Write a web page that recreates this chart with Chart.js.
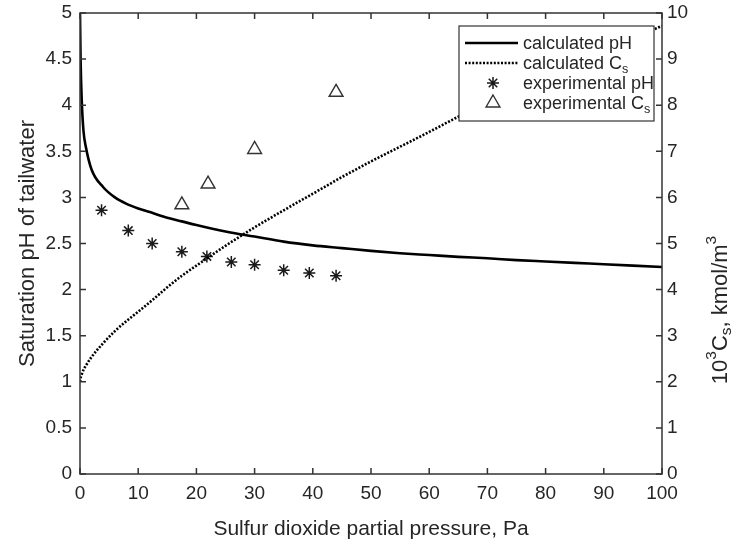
<!DOCTYPE html>
<html>
<head>
<meta charset="utf-8">
<script src="https://cdn.jsdelivr.net/npm/chart.js@4.4.1/dist/chart.umd.min.js"></script>
<style>
  html, body { margin: 0; padding: 0; background: #fff; }
  #wrap { width: 732px; height: 543px; }
</style>
</head>
<body>
<div id="wrap"><canvas id="chart"></canvas></div>
<script>
// SO2 partial pressure, Pa (model curves)
const pressure = [0, 0.1, 0.3, 0.6, 1, 2, 4, 6, 8, 10, 12.5, 15, 17.5, 20, 25, 30, 35, 40, 45, 50, 55, 60, 65, 70, 75, 80, 85, 90, 95, 100];
const calcPH = [5.0, 4.5, 4.05, 3.72, 3.55, 3.3, 3.11, 3.0, 2.93, 2.88, 2.83, 2.78, 2.74, 2.70, 2.63, 2.575, 2.52, 2.48, 2.45, 2.42, 2.395, 2.375, 2.355, 2.34, 2.32, 2.305, 2.29, 2.275, 2.26, 2.245];
const calcCs = [2.0, 2.08, 2.16, 2.26, 2.35, 2.54, 2.84, 3.1, 3.32, 3.52, 3.78, 4.05, 4.3, 4.52, 4.95, 5.35, 5.72, 6.08, 6.44, 6.78, 7.1, 7.42, 7.75, 8.05, 8.34, 8.62, 8.9, 9.18, 9.45, 9.72];

// measurements
const expPressure = [3.7, 8.3, 12.4, 17.5, 21.8, 26, 30, 35, 39.4, 44];
const expPH = [2.86, 2.64, 2.50, 2.41, 2.36, 2.30, 2.27, 2.21, 2.18, 2.15];
const expCsPressure = [17.5, 22, 30, 44];
const expCs = [5.84, 6.29, 7.04, 8.28];

const FONT = "'Liberation Sans', Arial, Helvetica, sans-serif";
const TEXT = '#262626';
const AXIS = '#333';

const pts = (xs, ys) => xs.map((x, i) => ({ x: x, y: ys[i] }));
const plain = v => String(Number(v.toFixed(2)));

// text with sub/superscripts: parts = [[text, 0|1|-1], ...]
function richWidth(ctx, parts, size) {
    let w = 0;
    parts.forEach(([t, s]) => {
        ctx.font = (s ? size * 0.7 : size) + 'px ' + FONT;
        w += ctx.measureText(t).width;
    });
    return w;
}
function drawRich(ctx, parts, x, y, size) {
    parts.forEach(([t, s]) => {
        ctx.font = (s ? size * 0.7 : size) + 'px ' + FONT;
        const dy = s === 1 ? -size * 0.42 : s === -1 ? size * 0.28 : 0;
        ctx.fillText(t, x, y + dy);
        x += ctx.measureText(t).width;
    });
}

// frame with inward tick marks on all four sides
const framePlugin = {
    id: 'frame',
    afterDatasetsDraw(chart) {
        const { ctx, chartArea: { left, right, top, bottom }, scales } = chart;
        const len = 6;
        ctx.save();
        ctx.strokeStyle = AXIS;
        ctx.lineWidth = 1.5;
        ctx.strokeRect(left, top, right - left, bottom - top);
        ctx.beginPath();
        scales.x.ticks.forEach(t => {
            const px = scales.x.getPixelForValue(t.value);
            ctx.moveTo(px, bottom); ctx.lineTo(px, bottom - len);
            ctx.moveTo(px, top); ctx.lineTo(px, top + len);
        });
        scales.y.ticks.forEach(t => {
            const py = scales.y.getPixelForValue(t.value);
            ctx.moveTo(left, py); ctx.lineTo(left + len, py);
        });
        scales.y2.ticks.forEach(t => {
            const py = scales.y2.getPixelForValue(t.value);
            ctx.moveTo(right, py); ctx.lineTo(right - len, py);
        });
        ctx.stroke();
        ctx.restore();
    }
};

// boxed legend in the upper right corner of the plot
const legendLabels = [
    [['calculated pH', 0]],
    [['calculated C', 0], ['s', -1]],
    [['experimental pH', 0]],
    [['experimental C', 0], ['s', -1]]
];
const boxLegend = {
    id: 'boxLegend',
    afterDatasetsDraw(chart) {
        const { ctx, chartArea } = chart;
        const w = 195, h = 95;
        const x0 = chartArea.right - 8 - w, y0 = chartArea.top + 13;
        ctx.save();
        ctx.fillStyle = '#fff';
        ctx.fillRect(x0, y0, w, h);
        ctx.strokeStyle = AXIS;
        ctx.lineWidth = 1.2;
        ctx.strokeRect(x0, y0, w, h);
        chart.data.datasets.forEach((ds, i) => {
            const y = y0 + 17 + i * 20;
            if (ds.pointRadius === 0) {
                ctx.beginPath();
                ctx.strokeStyle = ds.borderColor;
                ctx.lineWidth = ds.borderWidth;
                ctx.setLineDash(ds.borderDash || []);
                ctx.moveTo(x0 + 6, y);
                ctx.lineTo(x0 + 59, y);
                ctx.stroke();
                ctx.setLineDash([]);
            } else {
                ctx.strokeStyle = ds.borderColor;
                ctx.fillStyle = ds.backgroundColor;
                ctx.lineWidth = ds.borderWidth;
                Chart.helpers.drawPoint(ctx, {
                    pointStyle: ds.pointStyle, radius: ds.pointRadius,
                    borderWidth: ds.borderWidth, rotation: 0
                }, x0 + 34, y);
            }
            ctx.fillStyle = TEXT;
            ctx.textBaseline = 'middle';
            ctx.textAlign = 'left';
            drawRich(ctx, legendLabels[i], x0 + 64, y + 1, 18);
        });
        ctx.restore();
    }
};

// right-hand axis title: 10^3 C_s, kmol/m^3
const rightTitle = {
    id: 'rightTitle',
    afterDraw(chart) {
        const { ctx } = chart;
        const parts = [['10', 0], ['3', 1], ['C', 0], ['s', -1], [', kmol/m', 0], ['3', 1]];
        const size = 22;
        const w = richWidth(ctx, parts, size);
        ctx.save();
        ctx.translate(chart.width - 11, 310);
        ctx.rotate(-Math.PI / 2);
        ctx.fillStyle = TEXT;
        ctx.textBaseline = 'middle';
        ctx.textAlign = 'left';
        drawRich(ctx, parts, -w / 2, 0, size);
        ctx.restore();
    }
};

const tickFont = { family: FONT, size: 19 };
const titleFont = { family: FONT, size: 22 };

// keep the plot box where it is regardless of tick label overhang
function fixY(width) {
    return s => { s.width = width; s.paddingTop = 0; s.paddingBottom = 0; };
}

new Chart(document.getElementById('chart'), {
    type: 'line',
    data: {
        datasets: [{
            label: 'calculated pH',
            data: pts(pressure, calcPH),
            yAxisID: 'y',
            borderColor: '#000',
            borderWidth: 2.6,
            pointRadius: 0,
            cubicInterpolationMode: 'monotone'
        }, {
            label: 'calculated Cs',
            data: pts(pressure, calcCs),
            yAxisID: 'y2',
            borderColor: '#000',
            borderWidth: 2.6,
            borderDash: [2, 1.6],
            pointRadius: 0,
            cubicInterpolationMode: 'monotone'
        }, {
            label: 'experimental pH',
            data: pts(expPressure, expPH),
            yAxisID: 'y',
            showLine: false,
            pointStyle: 'star',
            pointRadius: 6,
            borderWidth: 1.5,
            borderColor: '#1a1a1a',
            backgroundColor: '#1a1a1a'
        }, {
            label: 'experimental Cs',
            data: pts(expCsPressure, expCs),
            yAxisID: 'y2',
            showLine: false,
            pointStyle: 'triangle',
            pointRadius: 8,
            borderWidth: 1.4,
            borderColor: '#333',
            backgroundColor: 'rgba(255,255,255,0)'
        }]
    },
    options: {
        responsive: true,
        maintainAspectRatio: false,
        animation: false,
        layout: { padding: { top: 13, left: 0, right: 0, bottom: 0 } },
        plugins: {
            legend: { display: false },
            tooltip: { enabled: false }
        },
        scales: {
            x: {
                type: 'linear',
                min: 0,
                max: 100,
                ticks: { stepSize: 10, font: tickFont, color: TEXT, padding: 8, maxRotation: 0 },
                grid: { display: false, drawTicks: false },
                border: { display: false },
                title: { display: true, text: 'Sulfur dioxide partial pressure, Pa', font: { family: FONT, size: 21 }, color: TEXT, padding: { top: 0, bottom: 1 } },
                afterFit(s) { s.height = 69; }
            },
            y: {
                position: 'left',
                min: 0,
                max: 5,
                ticks: { stepSize: 0.5, font: tickFont, color: TEXT, padding: 8, callback: plain },
                grid: { display: false, drawTicks: false },
                border: { display: false },
                title: { display: true, text: 'Saturation pH of tailwater', font: titleFont, color: TEXT, padding: { top: 15, bottom: 0 } },
                afterFit: fixY(80)
            },
            y2: {
                position: 'right',
                min: 0,
                max: 10,
                ticks: { stepSize: 1, font: tickFont, color: TEXT, padding: 5, callback: plain },
                grid: { display: false, drawTicks: false },
                border: { display: false },
                afterFit: fixY(70)
            }
        }
    },
    plugins: [framePlugin, boxLegend, rightTitle]
});
</script>
</body>
</html>
